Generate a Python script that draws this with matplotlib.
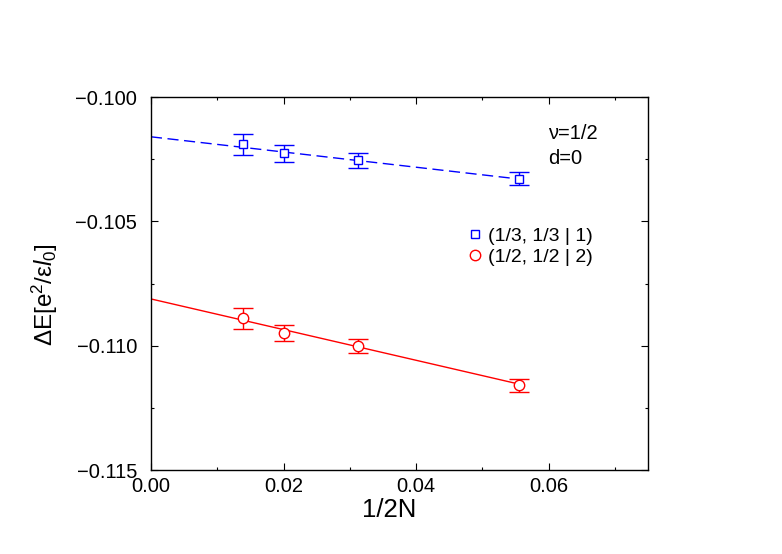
import numpy as np
import matplotlib
matplotlib.use('Agg')
import matplotlib.pyplot as plt
from matplotlib.lines import Line2D

plt.rcParams['font.family'] = ['Liberation Sans', 'DejaVu Sans']
plt.rcParams['mathtext.fontset'] = 'custom'
plt.rcParams['mathtext.rm'] = 'Liberation Sans'
plt.rcParams['mathtext.it'] = 'Liberation Sans:italic'

# dados
x_inv2N = [1/72, 1/50, 1/32, 1/18]

blue_E = [-0.10190, -0.10227, -0.10255, -0.10328]
blue_err = [0.00042, 0.00034, 0.00029, 0.00027]
blue_fit = [-0.10160, -0.0306]   # intercepto, inclinacao

red_E = [-0.10890, -0.10949, -0.11000, -0.11159]
red_err = [0.00042, 0.00034, 0.00028, 0.00026]
red_fit = [-0.10812, -0.0617]

labels = ['(1/3, 1/3 | 1)', '(1/2, 1/2 | 2)']

fig = plt.figure(figsize=(7.82, 5.54), dpi=100)
ax = fig.add_axes([0.193, 0.1516, 0.636, 0.6733])

xl = np.array([0.0, max(x_inv2N)])
ax.plot(xl, blue_fit[0] + blue_fit[1] * xl, color='blue', lw=1.0,
        dashes=(8, 4), zorder=2)
ax.plot(xl, red_fit[0] + red_fit[1] * xl, color='red', lw=1.0, zorder=2)

ax.errorbar(x_inv2N, blue_E, yerr=blue_err, fmt='s', color='blue',
            mfc='white', mec='blue', ms=6, mew=1.0, elinewidth=1.0,
            capsize=7, capthick=1.0, zorder=3)
ax.errorbar(x_inv2N, red_E, yerr=red_err, fmt='o', color='red',
            mfc='white', mec='red', ms=7.5, mew=1.0, elinewidth=1.0,
            capsize=7, capthick=1.0, zorder=3)

ax.set_xlim(0, 0.075)
ax.set_ylim(-0.115, -0.100)
ax.set_xticks([0.00, 0.02, 0.04, 0.06])
ax.set_xticklabels(['0.00', '0.02', '0.04', '0.06'])
ax.set_xticks(np.arange(0.01, 0.075, 0.02), minor=True)
ax.set_yticks([-0.115, -0.110, -0.105, -0.100])
ax.set_yticklabels(['\u22120.115', '\u22120.110', '\u22120.105', '\u22120.100'])
ax.set_yticks([-0.1125, -0.1075, -0.1025], minor=True)

ax.tick_params(which='both', direction='in', top=True, right=True,
               labelsize=14.5)
ax.tick_params(which='major', length=5, width=0.8)
ax.tick_params(which='minor', length=2.5, width=0.8)
ax.tick_params(axis='y', pad=10)
ax.tick_params(axis='x', pad=5)
for s in ax.spines.values():
    s.set_linewidth(1.0)

ax.set_xlabel('1/2N', fontsize=18.5)
ax.xaxis.set_label_coords(0.479, -0.075)
ax.set_ylabel('\u0394E[e$^2$/\u03b5$l_0$]', fontsize=17.5)
ax.yaxis.set_label_coords(-0.182, 0.47)

ax.text(0.799, 0.903, '\u03bd=1/2', transform=ax.transAxes, fontsize=14.5,
        va='center', ha='left')
ax.text(0.799, 0.836, 'd=0', transform=ax.transAxes, fontsize=14.5,
        va='center', ha='left')

handles = [
    Line2D([], [], ls='none', marker='s', ms=6, mfc='white', mec='blue', mew=1.0),
    Line2D([], [], ls='none', marker='o', ms=7.5, mfc='white', mec='red', mew=1.0),
]
ax.legend(handles, labels, loc='center left', bbox_to_anchor=(0.636, 0.599),
          frameon=False, fontsize=14, handlelength=0.8, handletextpad=0.28,
          labelspacing=0.2, borderpad=0, borderaxespad=0)

fig.savefig('out.png', dpi=100)
